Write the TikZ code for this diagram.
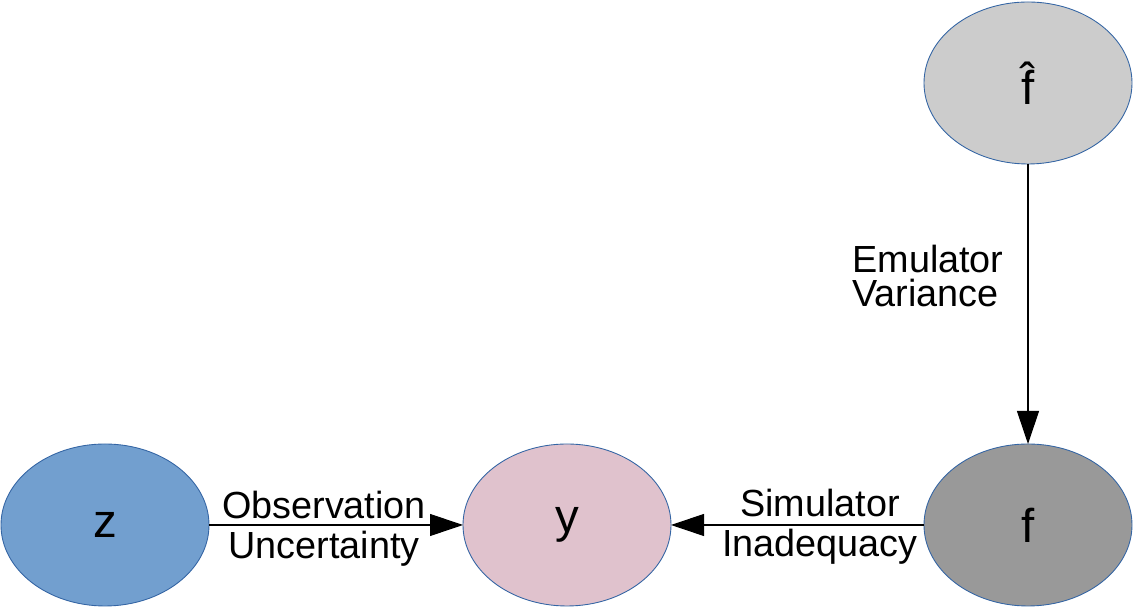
\documentclass[tikz,border=0pt]{standalone}
\usepackage{fontspec}
\setmainfont{Liberation Sans}
\usetikzlibrary{arrows.meta,shapes.geometric}
\definecolor{rim}{HTML}{3465A4}
\definecolor{zblue}{HTML}{729FCF}
\definecolor{ypink}{HTML}{E0C2CD}
\definecolor{fgrey}{HTML}{999999}
\definecolor{hgrey}{HTML}{CCCCCC}

\begin{document}
\begin{tikzpicture}[
  var/.style={ellipse, draw=rim, line width=0.5pt, minimum width=4.16cm,
    minimum height=3.24cm, inner sep=0pt, outer sep=0pt,
    font=\fontsize{27}{32}\selectfont},
  lab/.style={font=\fontsize{21.5}{22.5}\selectfont, inner sep=0pt},
  link/.style={line width=0.6pt, -{Triangle[length=0.66cm,width=0.44cm]}}]
\useasboundingbox (0,0) rectangle (22.68,12.16);
\node[var, fill=zblue] (z) at (2.10,1.66) {z};
\node[var, fill=ypink] (y) at (11.34,1.66) {y};
\node[var, fill=fgrey] (f) at (20.56,1.66) {f};
\node[var, fill=hgrey] (fh) at (20.56,10.50) {f̂};
\draw[link] (z) -- (y);
\draw[link] (f) -- (y);
\draw[link] (fh) -- (f);
\node[lab, align=center] (obs) at (6.48,1.59) {Observation\\Uncertainty};
\node[lab, align=center] (sim) at (16.40,1.63) {Simulator\\Inadequacy};
\node[lab, align=left, anchor=west, font=\fontsize{21.5}{19.6}\selectfont]
  (emu) at (17.04,6.64) {Emulator\\Variance};
\end{tikzpicture}
\end{document}
